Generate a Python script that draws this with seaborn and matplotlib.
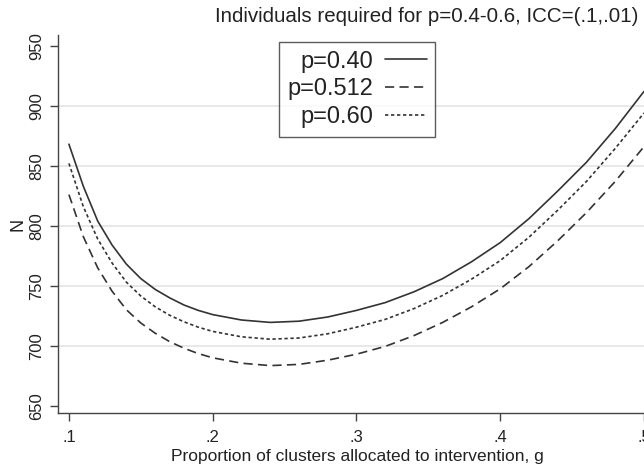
import numpy as np
import pandas as pd
import matplotlib
matplotlib.use("Agg")
import matplotlib.pyplot as plt
import seaborn as sns

# proportion of clusters allocated to intervention
g = [0.10, 0.11, 0.12, 0.13, 0.14, 0.15, 0.16, 0.17, 0.18, 0.19, 0.20,
     0.22, 0.24, 0.26, 0.28, 0.30, 0.32, 0.34, 0.36, 0.38, 0.40,
     0.42, 0.44, 0.46, 0.48, 0.50]

# individuals required
n_p040 = [868, 833, 804, 784, 768, 756, 747, 740, 734, 729.5, 726,
          721.5, 719.5, 720.5, 724, 729.5, 736, 745, 756, 770, 786,
          806, 829, 853, 881, 912]
n_p0512 = [826, 791, 765, 745.5, 730, 719, 710.5, 703.5, 698, 693.5, 690,
           685.5, 683.5, 684.5, 688, 693, 699.5, 708.5, 719.5, 732.5, 747.5,
           766, 787.5, 811, 837, 866]
n_p060 = [852, 816, 789, 769, 753, 741.5, 732.5, 725.5, 720, 715.5, 712,
          707.5, 705.5, 706.5, 710, 715.5, 722, 731, 742, 755.5, 771,
          790.5, 813, 837, 864.5, 894]

labels = ["p=0.40", "p=0.512", "p=0.60"]
x_ticks = [0.1, 0.2, 0.3, 0.4, 0.5]
x_ticklabels = [".1", ".2", ".3", ".4", ".5"]
y_ticks = [650, 700, 750, 800, 850, 900, 950]

df = pd.DataFrame({
    "g": g * 3,
    "N": n_p040 + n_p0512 + n_p060,
    "p": [labels[0]] * len(g) + [labels[1]] * len(g) + [labels[2]] * len(g),
})

sns.set_theme(style="ticks")
plt.rcParams["font.family"] = ["Liberation Sans", "DejaVu Sans"]

fig, ax = plt.subplots(figsize=(6.44, 4.66), dpi=100)
fig.subplots_adjust(left=58 / 644, right=1.0, bottom=53 / 466, top=431 / 466)

line_col = "#333333"
sns.lineplot(data=df, x="g", y="N", style="p", style_order=labels,
             dashes={labels[0]: "", labels[1]: (5.5, 3.2), labels[2]: (2, 1.6)},
             color=line_col, linewidth=1.2, ax=ax, legend=False)

ax.set_xlim(0.0924, 0.5)
ax.set_ylim(644, 959)
ax.set_xticks(x_ticks)
ax.set_xticklabels(x_ticklabels)
ax.set_yticks(y_ticks)
ax.set_yticklabels([str(v) for v in y_ticks], rotation=90, va="center")

# light horizontal grid, none at the two outer ticks
ax.grid(axis="y", color="#e6e6e6", linewidth=1.3)
gl = ax.yaxis.get_gridlines()
gl[0].set_visible(False)
gl[-1].set_visible(False)
ax.set_axisbelow(True)
for s in ["top", "right"]:
    ax.spines[s].set_visible(False)
for s in ["left", "bottom"]:
    ax.spines[s].set_color("#444444")
    ax.spines[s].set_linewidth(1.0)

ax.tick_params(axis="both", length=6, width=1.0, color="#444444",
               labelsize=12, labelcolor="#222222")
ax.tick_params(axis="x", pad=6)
ax.tick_params(axis="y", pad=4)

ax.set_xlabel("Proportion of clusters allocated to intervention, g",
              fontsize=12.5, color="#222222")
ax.xaxis.set_label_coords((357 - 58) / 586, -0.096)
ax.set_ylabel("N", fontsize=13, color="#222222")
ax.yaxis.set_label_coords(-0.053, 0.5)

# legend
handles = [plt.Line2D([], [], color=line_col, linewidth=1.2, linestyle="-"),
           plt.Line2D([], [], color=line_col, linewidth=1.2, dashes=(5.5, 3.2)),
           plt.Line2D([], [], color=line_col, linewidth=1.2, dashes=(2, 1.6))]
leg = fig.legend(handles, labels, loc="upper left",
                 bbox_to_anchor=(279 / 644, 1 - 42 / 466),
                 markerfirst=False, fancybox=False, frameon=True,
                 fontsize=17, handlelength=1.75, handletextpad=0.5,
                 labelspacing=0.24, borderpad=0.37, borderaxespad=0)
leg.get_frame().set_edgecolor("#333333")
leg.get_frame().set_linewidth(1.0)
for t in leg.get_texts():
    t.set_ha("right")
    t.set_color("#222222")

fig.text(427 / 644, 1 - 17 / 466,
         "Individuals required for p=0.4-0.6, ICC=(.1,.01)",
         ha="center", va="center", fontsize=14.8, color="#222222")

fig.savefig("out.png", dpi=100)
